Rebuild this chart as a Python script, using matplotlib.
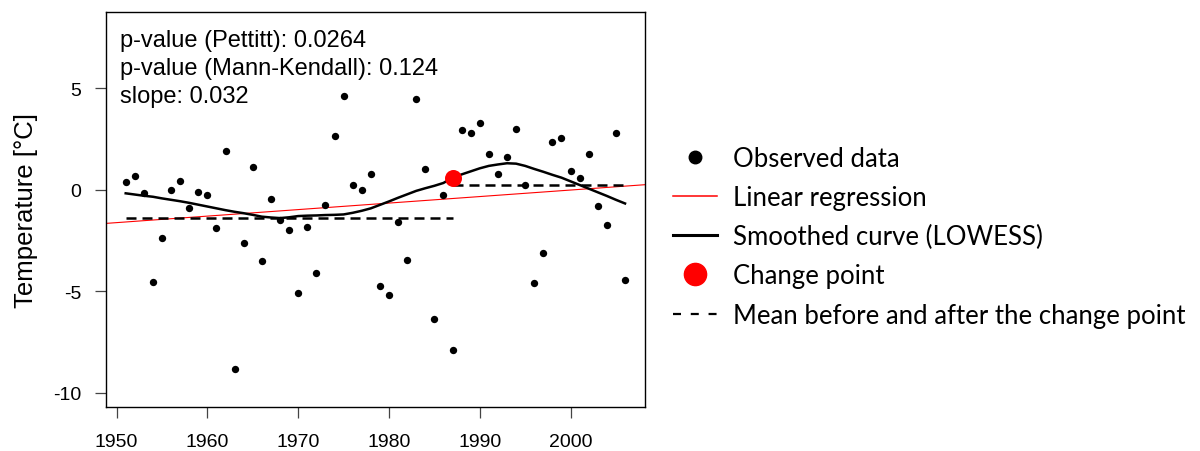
import numpy as np
import matplotlib
matplotlib.use("Agg")
import matplotlib.pyplot as plt
from matplotlib.lines import Line2D

# annual temperature anomalies
years = np.arange(1951, 2007)
temps = np.array([
    0.39, 0.69, -0.15, -4.54, -2.37, 0.00, 0.44, -0.89, -0.10, -0.25,
    -1.89, 1.92, -8.85, -2.61, 1.10, -3.49, -0.44, -1.48, -1.99, -5.07,
    -1.86, -4.11, -0.77, 2.64, 4.62, 0.21, -0.02, 0.75, -4.76, -5.20,
    -1.60, -3.47, 4.45, 1.04, -6.36, -0.25, -7.89, 2.93, 2.78, 3.30,
    1.74, 0.77, 1.63, 3.01, 0.21, -4.61, -3.14, 2.33, 2.53, 0.94,
    0.57, 1.74, -0.82, -1.76, 2.78, -4.46,
])

# LOWESS smoothed values, one per year
smooth = np.array([
    -0.18, -0.24, -0.30, -0.35, -0.43, -0.50, -0.57, -0.65, -0.74, -0.83,
    -0.92, -1.01, -1.09, -1.16, -1.24, -1.33, -1.37, -1.40, -1.36, -1.30,
    -1.28, -1.27, -1.25, -1.24, -1.22, -1.14, -1.04, -0.92, -0.75, -0.58,
    -0.40, -0.23, -0.06, 0.07, 0.19, 0.33, 0.59, 0.75, 0.90, 1.05,
    1.17, 1.24, 1.30, 1.28, 1.17, 1.02, 0.88, 0.73, 0.59, 0.41,
    0.23, 0.05, -0.13, -0.31, -0.50, -0.68,
])

change_year = 1987
stats_lines = [
    "p-value (Pettitt): 0.0264",
    "p-value (Mann-Kendall): 0.124",
    "slope: 0.032",
]
legend_labels = [
    "Observed data",
    "Linear regression",
    "Smoothed curve (LOWESS)",
    "Change point",
    "Mean before and after the change point",
]

ARIAL = ["Liberation Sans", "DejaVu Sans"]

fig = plt.figure(figsize=(12, 4.52), dpi=100)
ax = fig.add_axes([0.0881, 0.0973, 0.4494, 0.8746])

ax.scatter(years, temps, s=28, color="black", linewidths=0, zorder=3)

# least squares trend across the whole panel
coef = np.polyfit(years, temps, 1)
ax.axline((years[0], np.polyval(coef, years[0])), slope=coef[0], color="red", lw=0.8, zorder=2)

ax.plot(years, smooth, color="black", lw=1.8, zorder=2)

# segment means; both segments share the change year
k = int(np.where(years == change_year)[0][0])
mean_before = temps[: k + 1].mean()
mean_after = temps[k:].mean()
ax.plot([years[0], change_year], [mean_before] * 2, color="black", lw=1.8, dashes=(4.0, 2.4))
ax.plot([change_year, years[-1]], [mean_after] * 2, color="black", lw=1.8, dashes=(4.0, 2.4))

ax.scatter([change_year], [smooth[k]], s=150, color="red", linewidths=0, zorder=4)

ax.set_xlim(1948.8, 2008.2)
ax.set_ylim(-10.7, 8.76)
ax.set_xticks(np.arange(1950, 2001, 10))
ax.set_yticks([-10, -5, 0, 5])
ax.set_yticklabels(["-10", "-5", "0", "5"])
ax.tick_params(length=8, width=0.9, color="#444444", labelsize=14, pad=9.5)
ax.tick_params(axis="x", pad=11)
for sp in ax.spines.values():
    sp.set_linewidth(1.0)
ax.set_ylabel("Temperature [°C]", fontsize=18.5, labelpad=11)

for lbl in ax.get_xticklabels() + ax.get_yticklabels():
    lbl.set_family(ARIAL)
ax.yaxis.label.set_family(ARIAL)

for i, line in enumerate(stats_lines):
    fig.text(0.1, 0.8967 - i * 0.0627, line, fontsize=17, va="baseline", family=ARIAL)

handles = [
    Line2D([], [], ls="none", marker="o", ms=9, color="black"),
    Line2D([], [], color="red", lw=1.1),
    Line2D([], [], color="black", lw=2.2),
    Line2D([], [], ls="none", marker="o", ms=16, color="red"),
    Line2D([], [], color="black", lw=1.6, dashes=(3.6, 4.4)),
]
fig.legend(handles, legend_labels, loc="center left", bbox_to_anchor=(0.5608, 0.474),
           frameon=False, borderpad=0, borderaxespad=0, handlelength=1.71,
           handletextpad=0.62, labelspacing=0.55,
           prop={"family": ["Lato", "DejaVu Sans"], "size": 18.5})

fig.savefig("out.png")
